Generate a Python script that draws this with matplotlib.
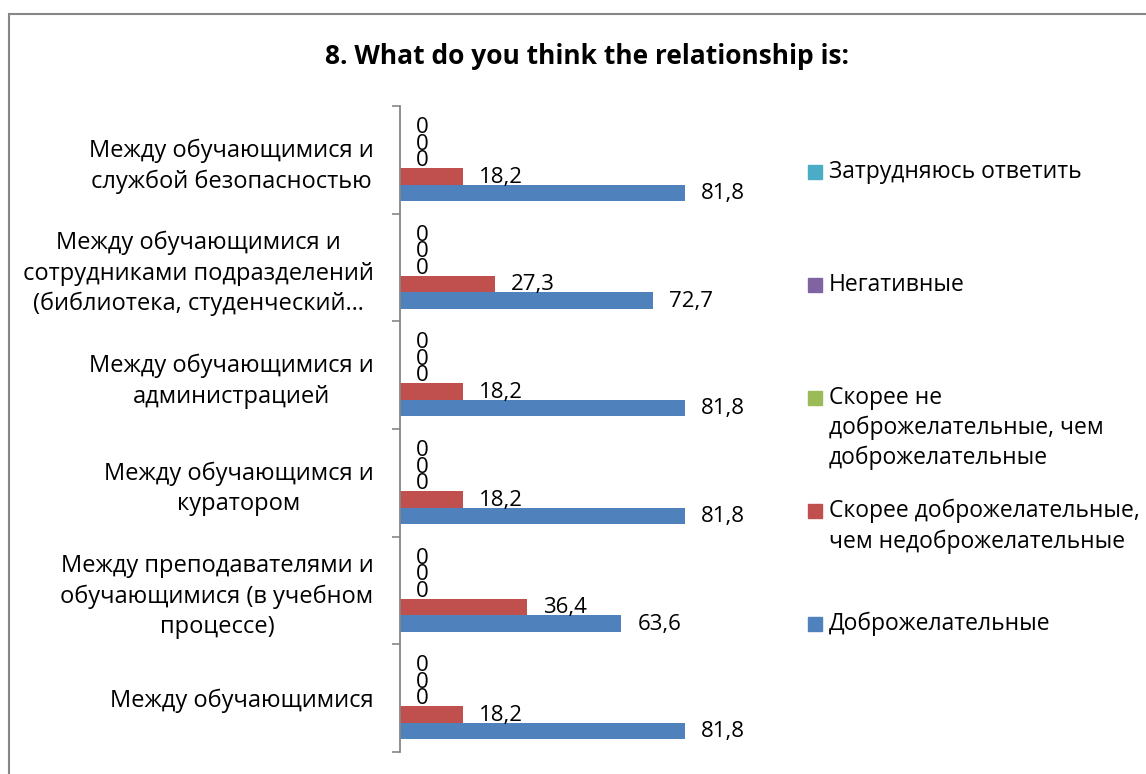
import matplotlib
matplotlib.use('Agg')
import matplotlib.pyplot as plt
from matplotlib.patches import Rectangle
import numpy as np

plt.rcParams['font.family'] = ['Open Sans', 'DejaVu Sans']

# data (bottom category first)
categories = [
    'Между обучающимися',
    'Между преподавателями и\nобучающимися (в учебном\nпроцессе)',
    'Между обучающимся и\nкуратором',
    'Между обучающимися и\nадминистрацией',
    'Между обучающимися и\nсотрудниками подразделений\n(библиотека, студенческий…',
    'Между обучающимися и\nслужбой безопасностью',
]
series_names = [
    'Доброжелательные',
    'Скорее доброжелательные,\nчем недоброжелательные',
    'Скорее не\nдоброжелательные, чем\nдоброжелательные',
    'Негативные',
    'Затрудняюсь ответить',
]
friendly = [81.8, 63.6, 81.8, 81.8, 72.7, 81.8]
rather_friendly = [18.2, 36.4, 18.2, 18.2, 27.3, 18.2]
rather_unfriendly = [0, 0, 0, 0, 0, 0]
negative = [0, 0, 0, 0, 0, 0]
hard_to_say = [0, 0, 0, 0, 0, 0]
values = [friendly, rather_friendly, rather_unfriendly, negative, hard_to_say]
colors = ['#4F81BD', '#C0504D', '#9BBB59', '#8064A2', '#4BACC6']

W, H = 1146, 774
fig = plt.figure(figsize=(W / 100, H / 100), dpi=100)
ax = fig.add_axes([400 / W, 22 / H, 348 / W, (752 - 106) / H])

y = np.arange(len(categories))
h = 0.153
for k, (vals, c) in enumerate(zip(values, colors)):
    pos = y + (k - 2) * h
    ax.barh(pos, vals, height=h, color=c, edgecolor='none')
    for p, v in zip(pos, vals):
        txt = '0' if v == 0 else f'{v:.1f}'.replace('.', ',')
        ax.annotate(txt, (v, p), xytext=(11.5, -0.5), textcoords='offset points',
                    ha='left', va='center', fontsize=16, color='black')

ax.set_xlim(0, 100)
ax.set_ylim(-0.5, len(categories) - 0.5)
ax.set_xticks([])
ax.set_yticks(y)
ax.set_yticklabels(categories, fontsize=17, multialignment='center', linespacing=1.35)
ax.tick_params(axis='y', which='major', length=0, pad=19)
ax.set_yticks(np.arange(len(categories) + 1) - 0.5, minor=True)
ax.tick_params(axis='y', which='minor', length=6, width=1.2, color='#868686')
for s in ['top', 'right', 'bottom']:
    ax.spines[s].set_visible(False)
ax.spines['left'].set_color('#868686')
ax.spines['left'].set_linewidth(1.3)

# title
fig.text(587 / W, 1 - 56 / H, '8. What do you think the relationship is:',
         ha='center', va='center', fontsize=19, fontweight='bold')

# legend (top to bottom)
y0, step = 172, 113
for i, k in enumerate(range(len(series_names) - 1, -1, -1)):
    yy = y0 + i * step
    fig.add_artist(Rectangle((808 / W, 1 - (yy + 7) / H), 14 / W, 14 / H,
                             transform=fig.transFigure, color=colors[k]))
    fig.text(829 / W, 1 - (yy - 12) / H, series_names[k], ha='left', va='top',
             fontsize=16.5, linespacing=1.32)

# chart frame
fig.add_artist(Rectangle((8.5 / W, -0.1), 1.2, 1.1 - 14.5 / H, transform=fig.transFigure,
                         fill=False, edgecolor='#868686', linewidth=1.5))

plt.savefig('out.png', dpi=100)
